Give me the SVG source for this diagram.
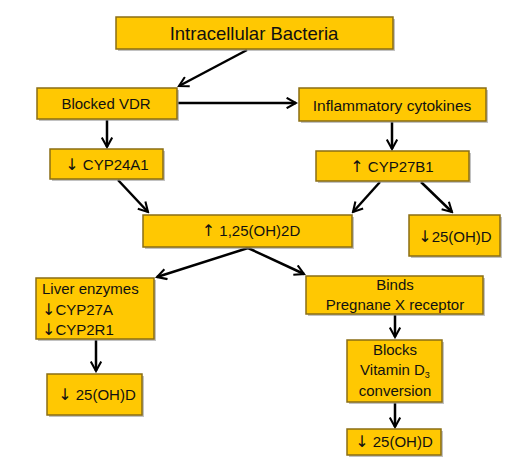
<svg xmlns="http://www.w3.org/2000/svg" width="519" height="467" viewBox="0 0 519 467">
<defs>
<style>
.box{fill:#FFC802;stroke:#8A6E14;stroke-width:1.5}
.sh{fill:#9a9a9a;opacity:0.6}
text{font-family:"Liberation Sans","DejaVu Sans",sans-serif;font-size:15px;fill:#111}
.c{text-anchor:middle}
.ar{font-family:"DejaVu Sans",sans-serif;font-size:16px}
.edge{stroke:#000;stroke-width:2.5;fill:none;marker-end:url(#ah)}
</style>
<marker id="ah" viewBox="0 0 12 12" refX="10" refY="6" markerWidth="5" markerHeight="5" orient="auto" markerUnits="strokeWidth">
<path d="M1,1 L10,6 L1,11" fill="none" stroke="#000" stroke-width="2"/>
</marker>
</defs>
<rect width="519" height="467" fill="#fff"/>
<g id="connectors">
<line class="edge" x1="247" y1="50" x2="179" y2="86"/>
<line class="edge" x1="178" y1="103" x2="296" y2="103"/>
<line class="edge" x1="107" y1="120" x2="107" y2="147"/>
<line class="edge" x1="392" y1="122" x2="392" y2="149"/>
<line class="edge" x1="118" y1="180" x2="148" y2="212"/>
<line class="edge" x1="380" y1="182" x2="353" y2="212"/>
<line class="edge" x1="421" y1="182" x2="452" y2="212"/>
<line class="edge" x1="248" y1="248" x2="157" y2="277"/>
<line class="edge" x1="248" y1="248" x2="304" y2="274"/>
<line class="edge" x1="96" y1="340" x2="96" y2="371"/>
<line class="edge" x1="395" y1="315" x2="395" y2="337"/>
<line class="edge" x1="395" y1="403" x2="395" y2="427"/>
</g>
<g id="n1"><rect class="sh" x="118" y="19" width="277" height="32"/><rect class="box" x="116" y="17" width="277" height="32"/><text class="c" x="254" y="40" style="font-size:18.5px">Intracellular Bacteria</text></g>
<g id="n2"><rect class="sh" x="39" y="90" width="140" height="31"/><rect class="box" x="37" y="88" width="140" height="31"/><text class="c" x="106" y="109">Blocked VDR</text></g>
<g id="n3"><rect class="sh" x="301" y="90" width="187" height="33"/><rect class="box" x="299" y="88" width="187" height="33"/><text class="c" x="392" y="111" style="font-size:15.5px">Inflammatory cytokines</text></g>
<g id="n4"><rect class="sh" x="52" y="151" width="113" height="30"/><rect class="box" x="50" y="149" width="113" height="30"/><text class="c" x="107" y="170"><tspan class="ar">↓</tspan> CYP24A1</text></g>
<g id="n5"><rect class="sh" x="318" y="153" width="153" height="30"/><rect class="box" x="316" y="151" width="153" height="30"/><text class="c" x="392" y="172"><tspan class="ar">↑</tspan> CYP27B1</text></g>
<g id="n6"><rect class="sh" x="145" y="217" width="209" height="32"/><rect class="box" x="143" y="215" width="209" height="32"/><text class="c" x="251" y="236"><tspan class="ar">↑</tspan> 1,25(OH)2D</text></g>
<g id="n7"><rect class="sh" x="411" y="217" width="91" height="41"/><rect class="box" x="409" y="215" width="91" height="41"/><text class="c" x="455" y="242"><tspan class="ar">↓</tspan>25(OH)D</text></g>
<g id="n8"><rect class="sh" x="38" y="280" width="118" height="61"/><rect class="box" x="36" y="278" width="118" height="61"/><text x="42" y="294">Liver enzymes</text><text x="42" y="315"><tspan class="ar">↓</tspan>CYP27A</text><text x="42" y="335"><tspan class="ar">↓</tspan>CYP2R1</text></g>
<g id="n9"><rect class="sh" x="49" y="376" width="95" height="41"/><rect class="box" x="47" y="374" width="95" height="41"/><text class="c" x="97" y="400"><tspan class="ar">↓</tspan> 25(OH)D</text></g>
<g id="n10"><rect class="sh" x="308" y="278" width="177" height="38"/><rect class="box" x="306" y="276" width="177" height="38"/><text class="c" x="395" y="290">Binds</text><text class="c" x="395" y="310">Pregnane X receptor</text></g>
<g id="n11"><rect class="sh" x="349" y="342" width="95" height="62"/><rect class="box" x="347" y="340" width="95" height="62"/><text class="c" x="395" y="355">Blocks</text><text class="c" x="395" y="375">Vitamin D<tspan style="font-size:9px" dy="3">3</tspan></text><text class="c" x="395" y="396">conversion</text></g>
<g id="n12"><rect class="sh" x="349" y="431" width="94" height="26"/><rect class="box" x="347" y="429" width="94" height="26"/><text class="c" x="394" y="447"><tspan class="ar">↓</tspan> 25(OH)D</text></g>
</svg>
